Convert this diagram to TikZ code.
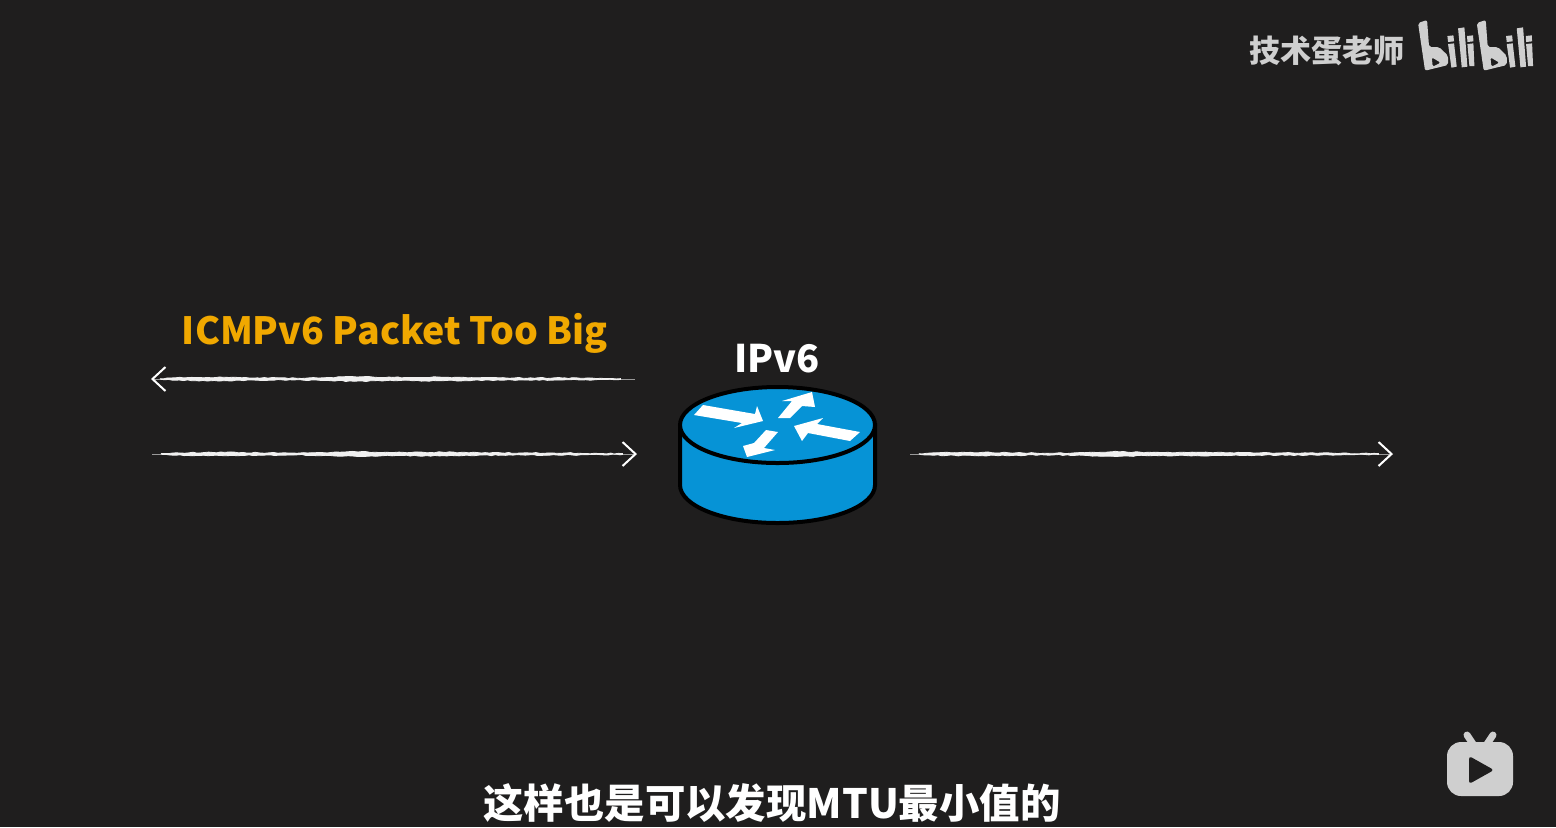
\documentclass[tikz,border=0pt]{standalone}
\usepackage{fontspec}
\usepackage{tikz}
\usetikzlibrary{%
  arrows.meta,%
  calc,%
  decorations.pathmorphing%
}
\newfontfamily\cjk{Noto Sans CJK SC}
\definecolor{bgdark}{HTML}{1F1E1E}
\definecolor{routerblue}{HTML}{0693D6}
\definecolor{labelamber}{HTML}{F0A800}
\definecolor{markgrey}{HTML}{CFCFCF}
\tikzset{%
  chalkline/.style={draw=white!60!black,line width=0.5pt,-{Straight Barb[length=6.5pt,width=12pt,line width=1pt,color=white]}},
  chalkfill/.style={fill=white!94!black,draw=white!94!black,line width=0.4pt,decorate,decoration={random steps,segment length=2pt,amplitude=0.25pt}},
  routerarrow/.style={fill=white},
  chalktext/.style={font=\cjk\bfseries,text=white,inner sep=0pt}
}
% rough stroke between a left and a right end
\newcommand{\chalkstroke}[2]{%
  \fill [chalkfill] ($(#1)!.02!(#2)+(0,.4)$) -- ($(#1)!.05!(#2)+(0,1.2)$) -- ($(#1)!.15!(#2)+(0,1.7)$) -- ($(#1)!.22!(#2)+(0,1.2)$) -- ($(#1)!.3!(#2)+(0,.8)$) -- ($(#1)!.37!(#2)+(0,1.6)$) -- ($(#1)!.42!(#2)+(0,2.3)$) -- ($(#1)!.5!(#2)+(0,1.6)$) -- ($(#1)!.6!(#2)+(0,1.8)$) -- ($(#1)!.72!(#2)+(0,1.1)$) -- ($(#1)!.85!(#2)+(0,1)$) -- ($(#1)!.97!(#2)+(0,.4)$) -- ($(#1)!.97!(#2)+(0,-.4)$) -- ($(#1)!.85!(#2)+(0,-1)$) -- ($(#1)!.72!(#2)+(0,-1.1)$) -- ($(#1)!.6!(#2)+(0,-1.8)$) -- ($(#1)!.5!(#2)+(0,-1.6)$) -- ($(#1)!.42!(#2)+(0,-2.3)$) -- ($(#1)!.37!(#2)+(0,-1.6)$) -- ($(#1)!.3!(#2)+(0,-.8)$) -- ($(#1)!.22!(#2)+(0,-1.2)$) -- ($(#1)!.15!(#2)+(0,-1.7)$) -- ($(#1)!.05!(#2)+(0,-1.2)$) -- ($(#1)!.02!(#2)+(0,-.4)$) -- cycle;%
}
\begin{document}
\begin{tikzpicture}[x=0.5pt,y=-0.5pt]
  \useasboundingbox (0,0) rectangle (1556,827);
  \fill [bgdark] (0,0) rectangle (1556,827);
  % router
  \fill [routerblue,draw=black,line width=2pt] (680,425) -- (680,485) arc [start angle=180,end angle=0,x radius=97.5,y radius=38] -- (875,425) -- cycle;
  \fill [routerblue,draw=black,line width=2pt] (777.5,425) ellipse [x radius=97.5,y radius=38];
  \fill [routerarrow] (703,405) -- (755,414) -- (757,406) -- (763,421) -- (734,428) -- (742,423) -- (694,415) -- cycle;
  \fill [routerarrow] (778,418) -- (790,418) -- (802,406) -- (815,407) -- (812,392) -- (782,401) -- (792,401) -- cycle;
  \fill [routerarrow] (860,432) -- (817,424) -- (823,418) -- (794,426) -- (802,441) -- (808,433) -- (850,441) -- cycle;
  \fill [routerarrow] (766,430) -- (754,443) -- (743,446) -- (747,457) -- (775,450) -- (764,448) -- (778,432) -- cycle;
  \node (ipv6) [chalktext,font=\cjk\bfseries\fontsize{19}{19}\selectfont] at (777,359) {IPv6};
  \node (toobig) [chalktext,text=labelamber,font=\cjk\bfseries\fontsize{18.75}{18.75}\selectfont] at (395,333) {ICMPv6 Packet Too Big};
  % links
  \coordinate (backstart) at (635,379);
  \coordinate (backend) at (151,379);
  \coordinate (instart) at (152,454);
  \coordinate (inend) at (637,454);
  \coordinate (outstart) at (910,454);
  \coordinate (outend) at (1393,454);
  \foreach \from/\to in {backstart/backend,instart/inend,outstart/outend} {
    \draw [chalkline] (\from) -- (\to);
  }
  \chalkstroke{backend}{backstart}
  \chalkstroke{instart}{inend}
  \chalkstroke{outstart}{outend}
  % marks
  \node (teacher) [chalktext,text=markgrey,font=\cjk\bfseries\fontsize{15.5}{15.5}\selectfont] at (1327,51) {技术蛋老师};
  \begin{scope}[shift={(1230,0)},x=0.1667pt,y=-0.1667pt]
    \foreach \dx in {0,176} {
      \fill [markgrey,even odd rule,shift={(\dx,0)},rounded corners=1pt] (564,69) -- (591,60) -- (597,141) -- (627,141) -- (654,167) -- (654,195) -- (585,212) -- cycle (605,172) -- (632,188) -- (608,200) -- cycle;
      \fill [markgrey,shift={(\dx,0)}] (654,132) -- (672,130) -- (680,200) -- (664,203) -- cycle;
      \fill [markgrey,shift={(\dx,0)}] (652,108) -- (670,106) -- (672,124) -- (654,126) -- cycle;
      \fill [markgrey,shift={(\dx,0)}] (684,85) -- (703,82) -- (712,200) -- (695,202) -- cycle;
      \fill [markgrey,shift={(\dx,0)}] (712,132) -- (730,130) -- (733,198) -- (718,198) -- cycle;
      \fill [markgrey,shift={(\dx,0)}] (711,108) -- (729,106) -- (730,124) -- (712,126) -- cycle;
    }
  \end{scope}
  \fill [markgrey,rounded corners=7pt] (1447,742) rectangle (1513,796);
  \draw [markgrey,line width=3.5pt,line cap=round] (1473,744) -- (1467,735);
  \draw [markgrey,line width=3.5pt,line cap=round] (1487,744) -- (1493,735);
  \fill [bgdark,rounded corners=1.5pt] (1469,756) -- (1494,770) -- (1469,784) -- cycle;
  % subtitle
  \node (caption) [chalktext,font=\cjk\bfseries\fontsize{20.2}{20.2}\selectfont] at (772,803) {这样也是可以发现MTU最小值的};
\end{tikzpicture}
\end{document}
